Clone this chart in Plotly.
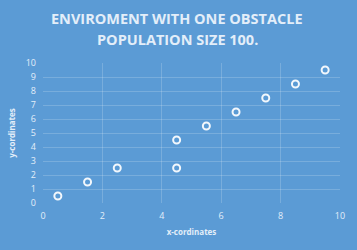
import plotly.graph_objects as go

x_vals = [0.5, 1.5, 2.5, 4.5, 4.5, 5.5, 6.5, 7.5, 8.5, 9.5]
y_vals = [0.5, 1.5, 2.5, 2.5, 4.5, 5.5, 6.5, 7.5, 8.5, 9.5]
title_lines = ["ENVIROMENT WITH ONE OBSTACLE", "POPULATION SIZE 100."]
x_title = "x-cordinates"
y_title = "y-cordinates"

bg = "#5b9bd5"
txt = "#e3eef9"
grid = "rgba(255,255,255,0.18)"

fig = go.Figure(go.Scatter(
    x=x_vals, y=y_vals, mode="markers",
    marker=dict(size=7, color="#5b9bd5", line=dict(color="#f2f7fc", width=2)),
))
fig.update_layout(
    width=357, height=250,
    paper_bgcolor=bg, plot_bgcolor=bg,
    margin=dict(l=43, r=14, t=63, b=47),
    showlegend=False,
    font=dict(family="Liberation Sans Narrow, Open Sans", color=txt, size=8),
)
for i, line in enumerate(title_lines):
    fig.add_annotation(text="<b>" + line + "</b>", xref="paper", yref="paper",
                       x=(178.5 - 43) / 300, y=1 + (45 - 22 * i) / 140,
                       xanchor="center", yanchor="middle", showarrow=False,
                       font=dict(family="Open Sans", size=14.5, color=txt))
fig.update_xaxes(range=[0, 10], dtick=2, showgrid=True, gridcolor=grid, gridwidth=1,
                 zeroline=False, showline=False, ticks="", ticklabelstandoff=6,
                 tickfont=dict(size=9, color=txt),
                 title=dict(text="<b>" + x_title + "</b>", font=dict(size=8, color=txt), standoff=8))
fig.update_yaxes(range=[0, 10], dtick=1, showgrid=True, gridcolor=grid, gridwidth=1,
                 zeroline=False, showline=False, ticks="", ticklabelstandoff=6,
                 tickfont=dict(size=9, color=txt),
                 title=dict(text="<b>" + y_title + "</b>", font=dict(size=8, color=txt), standoff=8))
fig.write_html("out.html")
